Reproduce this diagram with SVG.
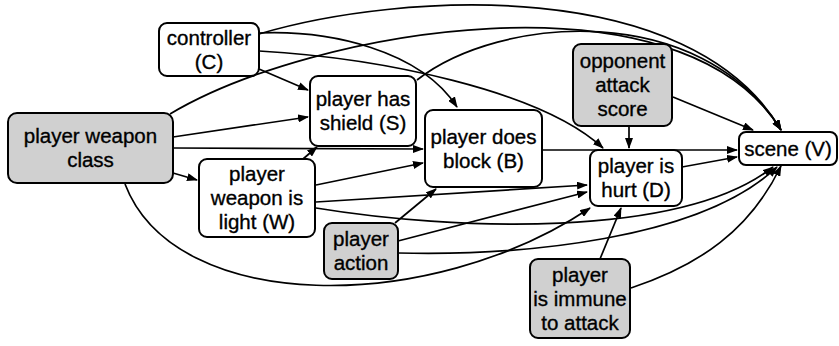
<svg xmlns="http://www.w3.org/2000/svg" width="839" height="346" viewBox="0 0 839 346">
<style>
.n rect{fill:#fff;stroke:#000;stroke-width:2}
.n.g rect{fill:#d0d0d0}
.n text{font-family:"Liberation Sans",Arial,sans-serif;font-size:20.5px;fill:#000;stroke:#000;stroke-width:0.35;text-anchor:middle}
.e path{fill:none;stroke:#000;stroke-width:1.7;marker-end:url(#ah)}
</style>
<defs>
<marker id="ah" markerUnits="userSpaceOnUse" markerWidth="11" markerHeight="8" refX="10" refY="4" orient="auto">
<path d="M0,0 L11,4 L0,8 z" fill="#000"/>
</marker>
</defs>
<rect width="839" height="346" fill="#fff"/>
<g class="e" id="connectors">
<path d="M259,34 C400,-8 690,-25 781,130"/>
<path d="M259,33 C330,30 420,50 457,107"/>
<path d="M259,51 C380,58 540,90 603,148"/>
<path d="M259,69 L308,90"/>
<path d="M173,137 L308,117"/>
<path d="M173,148 L423,149"/>
<path d="M173,173 L197,180"/>
<path d="M170,114 C310,30 680,-35 781,130"/>
<path d="M125,184 C175,315 430,315 590,208"/>
<path d="M417,80 C500,15 700,0 781,130"/>
<path d="M303,159 L317,147"/>
<path d="M316,185 L423,163"/>
<path d="M316,202 L587,185"/>
<path d="M316,208 C450,230 680,240 773,167"/>
<path d="M395,223 L436,189"/>
<path d="M398,241 L587,192"/>
<path d="M398,253 C520,256 700,240 777,167"/>
<path d="M542,150 L737,150"/>
<path d="M629,126 L629,148"/>
<path d="M673,97 L753,130"/>
<path d="M682,167 L737,157"/>
<path d="M600,259 L621,208"/>
<path d="M631,288 C700,265 750,230 781,166"/>
</g>
<g class="n" id="controller"><rect x="159" y="23" width="100" height="53" rx="8"/><text x="209" y="44.5">controller</text><text x="209" y="68.5">(C)</text></g>
<g class="n" id="shield"><rect x="310" y="76" width="106" height="70" rx="8"/><text x="363" y="106">player has</text><text x="363" y="130">shield (S)</text></g>
<g class="n g" id="weaponclass"><rect x="8" y="113" width="165" height="70" rx="9"/><text x="90.5" y="143">player weapon</text><text x="90.5" y="167">class</text></g>
<g class="n" id="light"><rect x="199" y="159" width="116" height="78" rx="8"/><text x="257" y="181">player</text><text x="257" y="205">weapon is</text><text x="257" y="229">light (W)</text></g>
<g class="n g" id="action"><rect x="324" y="223" width="74" height="56" rx="8"/><text x="361" y="246">player</text><text x="361" y="270">action</text></g>
<g class="n" id="block"><rect x="425" y="110" width="117" height="77" rx="8"/><text x="483.5" y="143.5">player does</text><text x="483.5" y="167.5">block (B)</text></g>
<g class="n g" id="opponent"><rect x="573" y="44" width="99" height="82" rx="8"/><text x="622.5" y="68">opponent</text><text x="622.5" y="92">attack</text><text x="622.5" y="116">score</text></g>
<g class="n" id="hurt"><rect x="590" y="150" width="92" height="56" rx="8"/><text x="636" y="173">player is</text><text x="636" y="197">hurt (D)</text></g>
<g class="n" id="scene"><rect x="739" y="132" width="98" height="33" rx="7"/><text x="788" y="156">scene (V)</text></g>
<g class="n g" id="immune"><rect x="530" y="259" width="100" height="79" rx="8"/><text x="580" y="281.5">player</text><text x="580" y="305.5">is immune</text><text x="580" y="329.5">to attack</text></g>
</svg>
